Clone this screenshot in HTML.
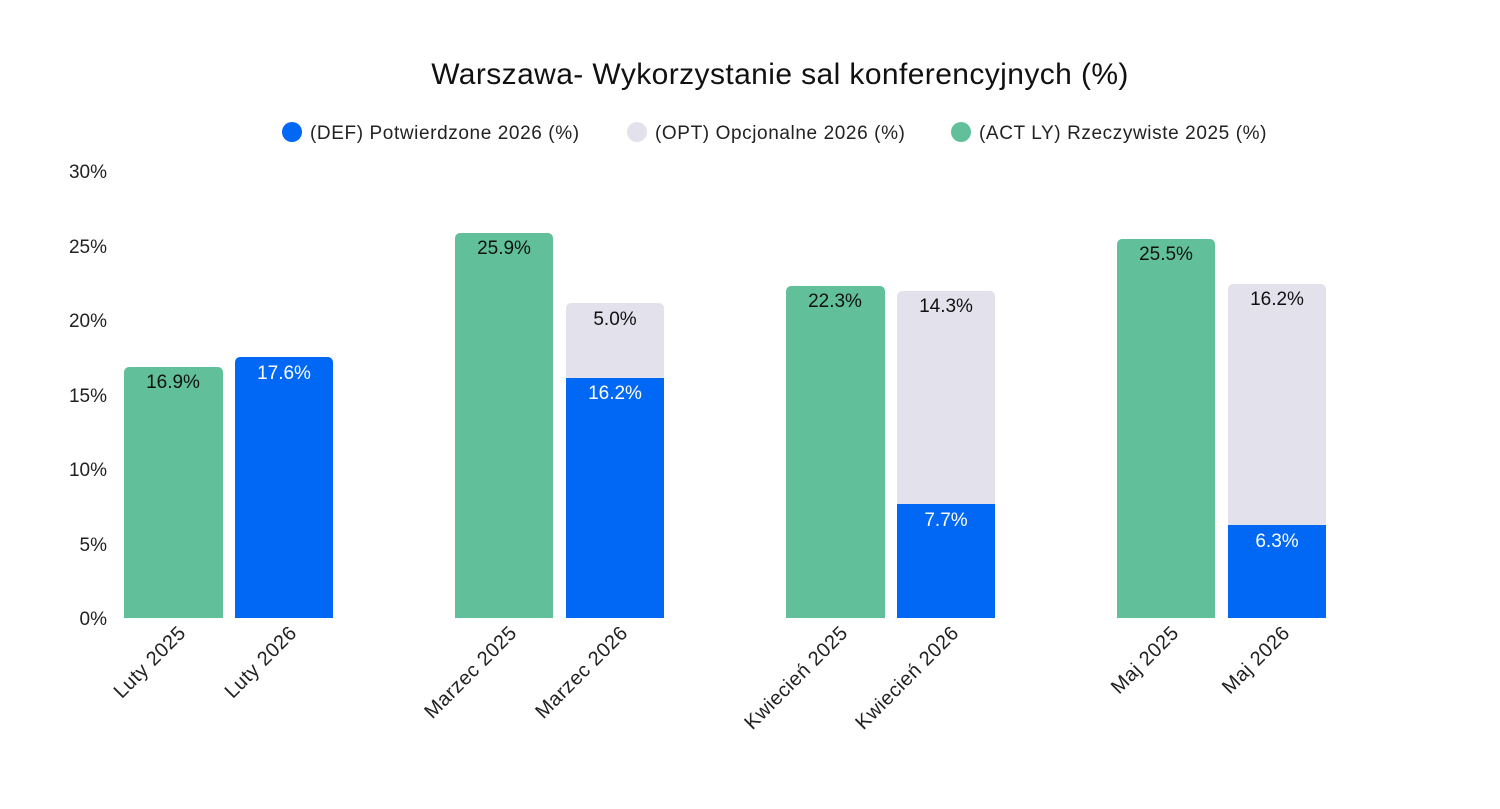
<!DOCTYPE html>
<html><head><meta charset="utf-8"><style>
html,body{margin:0;padding:0;background:#fff}
svg text{font-family:"Liberation Sans",sans-serif}
</style></head><body>
<svg width="1500" height="804" xmlns="http://www.w3.org/2000/svg">
<text x="780" y="84" font-size="30" text-anchor="middle" fill="#111" letter-spacing="0.4">Warszawa- Wykorzystanie sal konferencyjnych (%)</text>
<g font-size="19" fill="#222" letter-spacing="0.6">
<circle cx="292" cy="132" r="10" fill="#0068f4"/><text x="310" y="139">(DEF) Potwierdzone 2026 (%)</text>
<circle cx="637" cy="132" r="10" fill="#e3e1ec"/><text x="655" y="139">(OPT) Opcjonalne 2026 (%)</text>
<circle cx="961" cy="132" r="10" fill="#61c09a"/><text x="979" y="139">(ACT LY) Rzeczywiste 2025 (%)</text>
</g>
<g font-size="19" fill="#222" text-anchor="end">
<text x="107" y="178">30%</text><text x="107" y="253">25%</text><text x="107" y="327">20%</text>
<text x="107" y="402">15%</text><text x="107" y="476">10%</text><text x="107" y="551">5%</text><text x="107" y="625">0%</text>
</g>
<g>
<path d="M124 618V372a5 5 0 0 1 5-5h89a5 5 0 0 1 5 5V618z" fill="#61c09a"/>
<path d="M235 618V362a5 5 0 0 1 5-5h88a5 5 0 0 1 5 5V618z" fill="#0068f4"/>
<path d="M455 618V238a5 5 0 0 1 5-5h88a5 5 0 0 1 5 5V618z" fill="#61c09a"/>
<path d="M566 378V308a5 5 0 0 1 5-5h88a5 5 0 0 1 5 5V378z" fill="#e3e1ec"/>
<rect x="566" y="378" width="98" height="240" fill="#0068f4"/>
<path d="M786 618V291a5 5 0 0 1 5-5h89a5 5 0 0 1 5 5V618z" fill="#61c09a"/>
<path d="M897 504V296a5 5 0 0 1 5-5h88a5 5 0 0 1 5 5V504z" fill="#e3e1ec"/>
<rect x="897" y="504" width="98" height="114" fill="#0068f4"/>
<path d="M1117 618V244a5 5 0 0 1 5-5h88a5 5 0 0 1 5 5V618z" fill="#61c09a"/>
<path d="M1228 525V289a5 5 0 0 1 5-5h88a5 5 0 0 1 5 5V525z" fill="#e3e1ec"/>
<rect x="1228" y="525" width="98" height="93" fill="#0068f4"/>
</g>
<g font-size="19" text-anchor="middle">
<text x="173" y="388" fill="#111">16.9%</text>
<text x="284" y="379" fill="#fff">17.6%</text>
<text x="504" y="254" fill="#111">25.9%</text>
<text x="615" y="325" fill="#111">5.0%</text>
<text x="615" y="399" fill="#fff">16.2%</text>
<text x="835" y="307" fill="#111">22.3%</text>
<text x="946" y="312" fill="#111">14.3%</text>
<text x="946" y="526" fill="#fff">7.7%</text>
<text x="1166" y="260" fill="#111">25.5%</text>
<text x="1277" y="305" fill="#111">16.2%</text>
<text x="1277" y="547" fill="#fff">6.3%</text>
</g>
<g font-size="20" fill="#222" text-anchor="end" letter-spacing="0.5">
<text transform="translate(187,634) rotate(-45)">Luty 2025</text>
<text transform="translate(298,634) rotate(-45)">Luty 2026</text>
<text transform="translate(518,634) rotate(-45)">Marzec 2025</text>
<text transform="translate(629,634) rotate(-45)">Marzec 2026</text>
<text transform="translate(849,634) rotate(-45)">Kwiecień 2025</text>
<text transform="translate(960,634) rotate(-45)">Kwiecień 2026</text>
<text transform="translate(1180,634) rotate(-45)">Maj 2025</text>
<text transform="translate(1291,634) rotate(-45)">Maj 2026</text>
</g>
</svg>
</body></html>
